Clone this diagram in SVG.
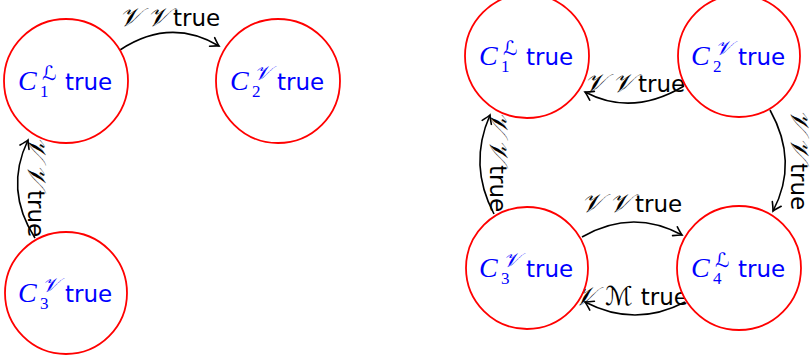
<svg xmlns="http://www.w3.org/2000/svg" width="812" height="357" viewBox="0 0 812 357">
<defs>
<style>
.node circle{fill:#fff;stroke:#f00;stroke-width:1.8}
.c{font-family:"Liberation Serif",serif;font-style:italic;font-size:28px;fill:#00f}
.sub{font-family:"Liberation Serif",serif;font-size:17px;fill:#00f}
.sup{font-family:"DejaVu Serif","DejaVu Sans",serif;font-style:italic;font-size:20px;fill:#00f}
.t{font-family:"DejaVu Sans",sans-serif;font-size:23px;fill:#00f}
.edge path{fill:none;stroke:#000;stroke-width:1.6;marker-end:url(#arr)}
.lbl{font-family:"DejaVu Sans",sans-serif;font-size:23px;fill:#000}
.scr{font-family:"DejaVu Serif","DejaVu Sans",serif;font-style:italic;font-size:26px}
</style>
<marker id="arr" markerUnits="userSpaceOnUse" markerWidth="16" markerHeight="16" viewBox="-10 -8 12 16" refX="0" refY="0" orient="auto" overflow="visible">
<path d="M-8,-5 Q-2.5,-1.2 0,0 Q-2.5,1.2 -8,5" fill="none" stroke="#000" stroke-width="1.6" stroke-linecap="round"/>
</marker>
</defs>
<g id="connectors" class="edge">
<path d="M120,50 Q170,17 219,46"/>
<path d="M35,238 Q4,190 28,140"/>
<path d="M684,86 Q632,117 585,92"/>
<path d="M770,110 Q799,162 773,211"/>
<path d="M494,214 Q468,165 490,115"/>
<path d="M582,237 Q632,208 682,235"/>
<path d="M685,302 Q635,328 585,302"/>
</g>
<g id="edge-labels" class="lbl">
<text x="119" y="26"><tspan class="scr">𝒱</tspan><tspan class="scr" dx="6">𝒱</tspan><tspan dx="4">true</tspan></text>
<text transform="translate(28,136) rotate(90)"><tspan class="scr">𝒱</tspan><tspan class="scr" dx="6">𝒱</tspan><tspan dx="4">true</tspan></text>
<text x="584" y="92"><tspan class="scr">𝒱</tspan><tspan class="scr" dx="6">𝒱</tspan><tspan dx="4">true</tspan></text>
<text transform="translate(791,109) rotate(90)"><tspan class="scr">𝒱</tspan><tspan class="scr" dx="6">𝒱</tspan><tspan dx="4">true</tspan></text>
<text transform="translate(490,111) rotate(90)"><tspan class="scr">𝒱</tspan><tspan class="scr" dx="6">𝒱</tspan><tspan dx="4">true</tspan></text>
<text x="581" y="212"><tspan class="scr">𝒱</tspan><tspan class="scr" dx="6">𝒱</tspan><tspan dx="4">true</tspan></text>
<text x="574" y="305"><tspan class="scr">𝒱</tspan><tspan class="scr" dx="9">ℳ</tspan><tspan dx="8">true</tspan></text>
</g>
<g id="L-C1" class="node" transform="translate(66,81)">
<circle r="62"/>
<text class="c" x="-48" y="9">C</text><text class="sub" x="-26" y="16">1</text><text class="sup" x="-24" y="-1">ℒ</text><text class="t" x="-1" y="9">true</text>
</g>
<g id="L-C2" class="node" transform="translate(278,81)">
<circle r="62"/>
<text class="c" x="-48" y="9">C</text><text class="sub" x="-26" y="16">2</text><text class="sup" x="-24" y="-1">𝒱</text><text class="t" x="-1" y="9">true</text>
</g>
<g id="L-C3" class="node" transform="translate(66,293)">
<circle r="61"/>
<text class="c" x="-48" y="9">C</text><text class="sub" x="-26" y="16">3</text><text class="sup" x="-24" y="-1">𝒱</text><text class="t" x="-1" y="9">true</text>
</g>
<g id="R-C1" class="node" transform="translate(527,56)">
<circle r="62"/>
<text class="c" x="-48" y="9">C</text><text class="sub" x="-26" y="16">1</text><text class="sup" x="-24" y="-1">ℒ</text><text class="t" x="-1" y="9">true</text>
</g>
<g id="R-C2" class="node" transform="translate(739,56)">
<circle r="61"/>
<text class="c" x="-48" y="9">C</text><text class="sub" x="-26" y="16">2</text><text class="sup" x="-24" y="-1">𝒱</text><text class="t" x="-1" y="9">true</text>
</g>
<g id="R-C3" class="node" transform="translate(527,268)">
<circle r="61"/>
<text class="c" x="-48" y="9">C</text><text class="sub" x="-26" y="16">3</text><text class="sup" x="-24" y="-1">𝒱</text><text class="t" x="-1" y="9">true</text>
</g>
<g id="R-C4" class="node" transform="translate(739,268)">
<circle r="62"/>
<text class="c" x="-48" y="9">C</text><text class="sub" x="-26" y="16">4</text><text class="sup" x="-24" y="-1">ℒ</text><text class="t" x="-1" y="9">true</text>
</g>
</svg>
